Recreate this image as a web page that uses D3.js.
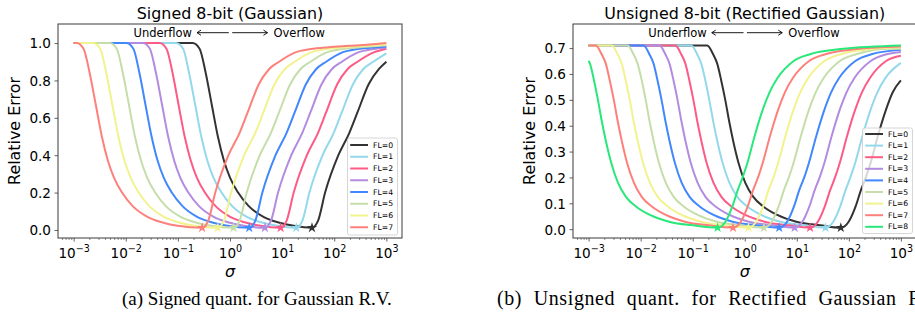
<!DOCTYPE html>
<html>
<head>
<meta charset="utf-8">
<script src="https://cdn.jsdelivr.net/npm/d3@7/dist/d3.min.js"></script>
<style>
  body { margin: 0; background: #fff; }
  svg { display: block; font-family: "DejaVu Sans", sans-serif; }
</style>
</head>
<body>
<svg id="chart" width="915" height="322"></svg>
<script>
// legend labels and colours, FL=0 first (drawn first, underneath)
const flLabels = ['FL=0', 'FL=1', 'FL=2', 'FL=3', 'FL=4', 'FL=5', 'FL=6', 'FL=7', 'FL=8'];
const flColors = ['#333333', '#93d9eb', '#fd5b87', '#b38be0', '#4288fc', '#c5dea9', '#f2f28e', '#fd807b', '#29e87a'];

const sigmaTicks = [1e-3, 1e-2, 1e-1, 1e0, 1e1, 1e2, 1e3];
const signedTicks = [0, 0.2, 0.4, 0.6, 0.8, 1.0];
const unsignedTicks = [0, 0.1, 0.2, 0.3, 0.4, 0.5, 0.6, 0.7];

// [sigma, relative error]
const signedFL0 = [[0.001,1.0],[0.191,1.0],[0.261,0.97],[0.342,0.84],[0.447,0.67],[0.585,0.5],[0.766,0.37],[1.0,0.28],[1.43,0.2],[2.24,0.13],[4.38,0.07],[8.55,0.04],[16.7,0.022],[37.4,0.012],[49.0,0.05],[66.8,0.2],[120,0.4],[195,0.52],[280,0.63],[457,0.78],[716,0.86],[1000,0.9]];
const signedFL1 = [[0.001,1.0],[0.092,1.0],[0.126,0.97],[0.164,0.84],[0.215,0.67],[0.281,0.5],[0.368,0.37],[0.481,0.28],[0.687,0.2],[1.08,0.13],[2.10,0.07],[4.11,0.04],[8.04,0.022],[18.7,0.012],[24.5,0.05],[33.4,0.2],[59.8,0.4],[97.7,0.52],[140,0.63],[229,0.78],[358,0.86],[560,0.9],[1000,0.945]];
const signedFL2 = [[0.001,1.0],[0.0443,1.0],[0.0604,0.97],[0.0791,0.84],[0.103,0.67],[0.135,0.5],[0.177,0.37],[0.231,0.28],[0.330,0.2],[0.518,0.13],[1.01,0.07],[1.98,0.04],[3.86,0.022],[9.35,0.012],[12.2,0.05],[16.7,0.2],[29.9,0.4],[48.9,0.52],[70.0,0.63],[114,0.78],[179,0.86],[280,0.9],[571,0.95],[1000,0.97]];
const signedFL3 = [[0.001,1.0],[0.0213,1.0],[0.0290,0.97],[0.0380,0.84],[0.0497,0.67],[0.0650,0.5],[0.0851,0.37],[0.111,0.28],[0.159,0.2],[0.249,0.13],[0.486,0.07],[0.951,0.04],[1.86,0.022],[4.68,0.012],[6.12,0.05],[8.36,0.2],[15.0,0.4],[24.4,0.52],[35.0,0.63],[57.1,0.78],[89.5,0.86],[140,0.9],[286,0.95],[560,0.968],[1000,0.976]];
const signedFL4 = [[0.001,1.0],[0.0102,1.0],[0.0140,0.97],[0.0183,0.84],[0.0239,0.67],[0.0313,0.5],[0.0409,0.37],[0.0535,0.28],[0.0764,0.2],[0.120,0.13],[0.234,0.07],[0.457,0.04],[0.893,0.022],[2.34,0.012],[3.06,0.05],[4.18,0.2],[7.48,0.4],[12.2,0.52],[17.5,0.63],[28.6,0.78],[44.8,0.86],[70.0,0.9],[143,0.95],[280,0.968],[625,0.978],[1000,0.982]];
const signedFL5 = [[0.001,1.0],[0.00492,1.0],[0.00671,0.97],[0.00879,0.84],[0.0115,0.67],[0.0150,0.5],[0.0197,0.37],[0.0257,0.28],[0.0367,0.2],[0.0575,0.13],[0.113,0.07],[0.220,0.04],[0.430,0.022],[1.17,0.012],[1.53,0.05],[2.09,0.2],[3.74,0.4],[6.11,0.52],[8.75,0.63],[14.3,0.78],[22.4,0.86],[35.0,0.9],[71.4,0.95],[140,0.968],[313,0.978],[766,0.985],[1000,0.988]];
const signedFL6 = [[0.001,1.0],[0.00237,1.0],[0.00323,0.97],[0.00423,0.84],[0.00552,0.67],[0.00723,0.5],[0.00946,0.37],[0.0124,0.28],[0.0177,0.2],[0.0277,0.13],[0.0541,0.07],[0.106,0.04],[0.207,0.022],[0.585,0.012],[0.766,0.05],[1.05,0.2],[1.87,0.4],[3.06,0.52],[4.38,0.63],[7.15,0.78],[11.2,0.86],[17.5,0.9],[35.7,0.95],[70.0,0.968],[156,0.978],[383,0.985],[935,0.992],[1000,0.993]];
const signedFL7 = [[0.001,1.0],[0.00114,1.0],[0.00155,0.97],[0.00203,0.84],[0.00266,0.67],[0.00348,0.5],[0.00455,0.37],[0.00594,0.28],[0.00849,0.2],[0.0133,0.13],[0.0260,0.07],[0.0508,0.04],[0.0993,0.022],[0.292,0.012],[0.383,0.05],[0.522,0.2],[0.935,0.4],[1.53,0.52],[2.19,0.63],[3.57,0.78],[5.60,0.86],[8.75,0.9],[17.9,0.95],[35.0,0.968],[78.2,0.978],[191,0.985],[468,0.992],[1000,1.0]];

// [sigma, relative error]
const unsignedFL0 = [[0.001,0.71],[0.190,0.71],[0.248,0.675],[0.296,0.64],[0.353,0.575],[0.422,0.5],[0.504,0.415],[0.601,0.34],[0.750,0.26],[1.02,0.18],[1.46,0.125],[2.27,0.088],[4.22,0.055],[10.2,0.028],[28.3,0.015],[70.1,0.006],[100,0.03],[136,0.09],[170,0.15],[212,0.2],[265,0.26],[361,0.36],[514,0.46],[701,0.53],[1000,0.575]];
const unsignedFL1 = [[0.001,0.71],[0.094,0.71],[0.1225,0.675],[0.146,0.64],[0.175,0.575],[0.208,0.5],[0.249,0.415],[0.297,0.34],[0.371,0.26],[0.506,0.18],[0.719,0.125],[1.12,0.088],[2.08,0.055],[5.06,0.028],[14.0,0.015],[35.5,0.006],[50.6,0.03],[68.9,0.09],[86.1,0.15],[107,0.2],[134,0.26],[183,0.36],[260,0.46],[355,0.53],[506,0.585],[1000,0.643]];
const unsignedFL2 = [[0.001,0.71],[0.0465,0.71],[0.0605,0.675],[0.0723,0.64],[0.0863,0.575],[0.103,0.5],[0.123,0.415],[0.147,0.34],[0.183,0.26],[0.250,0.18],[0.356,0.125],[0.555,0.088],[1.03,0.055],[2.50,0.028],[6.92,0.015],[17.95,0.006],[25.6,0.03],[34.8,0.09],[43.6,0.15],[54.3,0.2],[67.8,0.26],[92.5,0.36],[131.5,0.46],[179.5,0.53],[256,0.585],[520,0.65],[1000,0.67]];
const unsignedFL3 = [[0.001,0.71],[0.0230,0.71],[0.0300,0.675],[0.0358,0.64],[0.0428,0.575],[0.0511,0.5],[0.0610,0.415],[0.0728,0.34],[0.0908,0.26],[0.124,0.18],[0.176,0.125],[0.275,0.088],[0.511,0.055],[1.24,0.028],[3.43,0.015],[9.08,0.006],[12.9,0.03],[17.6,0.09],[22.0,0.15],[27.5,0.2],[34.3,0.26],[46.8,0.36],[66.5,0.46],[90.8,0.53],[129,0.585],[263,0.65],[557,0.677],[1000,0.685]];
const unsignedFL4 = [[0.001,0.71],[0.0114,0.71],[0.0148,0.675],[0.0177,0.64],[0.0211,0.575],[0.0252,0.5],[0.0301,0.415],[0.0360,0.34],[0.0449,0.26],[0.0612,0.18],[0.0871,0.125],[0.136,0.088],[0.252,0.055],[0.612,0.028],[1.69,0.015],[4.59,0.006],[6.55,0.03],[8.91,0.09],[11.1,0.15],[13.9,0.2],[17.3,0.26],[23.7,0.36],[33.7,0.46],[45.9,0.53],[65.5,0.585],[133,0.65],[282,0.677],[1000,0.693]];
const unsignedFL5 = [[0.001,0.71],[0.00562,0.71],[0.00733,0.675],[0.00875,0.64],[0.0105,0.575],[0.0125,0.5],[0.0149,0.415],[0.0178,0.34],[0.0222,0.26],[0.0303,0.18],[0.0431,0.125],[0.0671,0.088],[0.125,0.055],[0.303,0.028],[0.838,0.015],[2.32,0.006],[3.31,0.03],[4.51,0.09],[5.64,0.15],[7.03,0.2],[8.77,0.26],[12.0,0.36],[17.0,0.46],[23.2,0.53],[33.1,0.585],[67.3,0.65],[143,0.677],[615,0.697],[1000,0.697]];
const unsignedFL6 = [[0.001,0.71],[0.00278,0.71],[0.00362,0.675],[0.00433,0.64],[0.00516,0.575],[0.00617,0.5],[0.00736,0.415],[0.00879,0.34],[0.0110,0.26],[0.0150,0.18],[0.0213,0.125],[0.0332,0.088],[0.0617,0.055],[0.150,0.028],[0.414,0.015],[1.175,0.006],[1.67,0.03],[2.28,0.09],[2.85,0.15],[3.56,0.2],[4.44,0.26],[6.05,0.36],[8.61,0.46],[11.7,0.53],[16.7,0.585],[34.0,0.65],[72.1,0.677],[311,0.697],[1000,0.703]];
const unsignedFL7 = [[0.001,0.71],[0.00137,0.71],[0.00179,0.675],[0.00214,0.64],[0.00255,0.575],[0.00305,0.5],[0.00364,0.415],[0.00435,0.34],[0.00542,0.26],[0.00740,0.18],[0.0105,0.125],[0.0164,0.088],[0.0305,0.055],[0.0740,0.028],[0.205,0.015],[0.594,0.006],[0.847,0.03],[1.15,0.09],[1.44,0.15],[1.80,0.2],[2.24,0.26],[3.06,0.36],[4.36,0.46],[5.94,0.53],[8.47,0.585],[17.2,0.65],[36.5,0.677],[157,0.697],[1000,0.706]];
const unsignedFL8 = [[0.001,0.651],[0.00106,0.64],[0.00127,0.575],[0.00151,0.5],[0.00180,0.415],[0.00215,0.34],[0.00269,0.26],[0.00366,0.18],[0.00521,0.125],[0.00813,0.088],[0.0151,0.055],[0.0366,0.028],[0.101,0.015],[0.301,0.006],[0.429,0.03],[0.583,0.09],[0.730,0.15],[0.910,0.2],[1.14,0.26],[1.55,0.36],[2.20,0.46],[3.01,0.53],[4.29,0.585],[8.71,0.65],[18.5,0.677],[79.6,0.697],[1000,0.71]];

const signedSeries = [signedFL0, signedFL1, signedFL2, signedFL3, signedFL4, signedFL5, signedFL6, signedFL7];
const unsignedSeries = [unsignedFL0, unsignedFL1, unsignedFL2, unsignedFL3, unsignedFL4, unsignedFL5, unsignedFL6, unsignedFL7, unsignedFL8];

const svg = d3.select('#chart');
const frameColor = '#3a3a3a';

function drawPanel(p, idx) {
  let x = d3.scaleLog().domain([Math.pow(10, -3.3), Math.pow(10, 3.3)]).range([p.left, p.right]);
  let y = d3.scaleLinear().domain(p.yDomain).range([p.bottom, p.top]);
  let g = svg.append('g');

  let clipId = 'clip' + idx;
  svg.append('clipPath').attr('id', clipId)
    .append('rect')
    .attr('x', p.left).attr('y', p.top)
    .attr('width', p.right - p.left).attr('height', p.bottom - p.top);

  let line = d3.line()
    .x(d => x(d[0]))
    .y(d => y(d[1]))
    .curve(d3.curveMonotoneX);

  let plot = g.append('g').attr('clip-path', `url(#${clipId})`);
  plot.selectAll('path.curve')
    .data(p.series)
    .enter()
    .append('path')
    .attr('class', 'curve')
    .attr('d', line)
    .attr('fill', 'none')
    .attr('stroke', (d, i) => flColors[i])
    .attr('stroke-width', 2)
    .attr('stroke-linejoin', 'round');

  // star marks the minimum of each curve
  let star = d3.symbol().type(d3.symbolStar).size(34);
  plot.selectAll('path.star')
    .data(p.series)
    .enter()
    .append('path')
    .attr('class', 'star')
    .attr('d', star)
    .attr('fill', (d, i) => flColors[i])
    .attr('transform', d => {
      let m = d3.least(d, v => v[1]);
      return `translate(${x(m[0])},${y(m[1])})`;
    });

  // x axis: minor then major ticks
  let minor = [];
  for (let e = -4; e <= 3; e++) {
    for (let k = 2; k <= 9; k++) {
      let v = k * Math.pow(10, e);
      if (v >= x.domain()[0] && v <= x.domain()[1]) minor.push(v);
    }
  }
  g.append('g')
    .attr('transform', `translate(0,${p.bottom})`)
    .call(d3.axisBottom(x).tickValues(minor).tickSize(2).tickFormat(''))
    .call(a => a.select('.domain').remove())
    .call(a => a.selectAll('line').attr('stroke', frameColor).attr('stroke-width', 0.6));

  let xAxis = g.append('g')
    .attr('transform', `translate(0,${p.bottom})`)
    .call(d3.axisBottom(x).tickValues(sigmaTicks).tickSize(3.5).tickPadding(7).tickFormat(''));
  xAxis.select('.domain').remove();
  xAxis.selectAll('line').attr('stroke', frameColor).attr('stroke-width', 0.8);
  xAxis.selectAll('.tick text').each(function(d) {
    let t = d3.select(this);
    let exp = Math.round(Math.log10(d));
    t.attr('font-size', 13.6).attr('fill', '#000').attr('font-family', '"DejaVu Sans", sans-serif');
    t.append('tspan').text('10');
    t.append('tspan').attr('dy', -5.8).attr('font-size', 9.6).text(String(exp).replace('-', '\u2212'));
  });

  let yAxis = g.append('g')
    .attr('transform', `translate(${p.left},0)`)
    .call(d3.axisLeft(y).tickValues(p.yTicks).tickSize(3.5).tickPadding(3.5).tickFormat(d3.format('.1f')));
  yAxis.select('.domain').remove();
  yAxis.selectAll('line').attr('stroke', frameColor).attr('stroke-width', 0.8);
  yAxis.selectAll('text')
    .attr('font-size', 13.6)
    .attr('fill', '#000')
    .attr('font-family', '"DejaVu Sans", sans-serif')
    .attr('dy', '0.36em');

  // frame
  g.append('rect')
    .attr('x', p.left).attr('y', p.top)
    .attr('width', p.right - p.left).attr('height', p.bottom - p.top)
    .attr('fill', 'none')
    .attr('stroke', frameColor)
    .attr('stroke-width', 1);

  let cx = x(1);

  g.append('text')
    .attr('x', (p.left + p.right) / 2).attr('y', 19.3)
    .attr('text-anchor', 'middle')
    .attr('font-size', 15.9)
    .text(p.title);

  // underflow / overflow annotation
  let ay = 32.7;
  let arrow = (x0, x1) => {
    let dir = x1 > x0 ? 1 : -1;
    g.append('path')
      .attr('d', `M${x0},${ay}H${x1}M${x1 - dir * 4},${ay - 2.6}L${x1},${ay}L${x1 - dir * 4},${ay + 2.6}`)
      .attr('fill', 'none')
      .attr('stroke', '#000')
      .attr('stroke-width', 0.9);
  };
  arrow(cx - 1.2, cx - 33);
  arrow(cx + 2.2, cx + 37.5);
  g.append('text')
    .attr('x', cx - 38).attr('y', 36.8)
    .attr('text-anchor', 'end')
    .attr('font-size', 11.5)
    .text('Underflow');
  g.append('text')
    .attr('x', cx + 43.5).attr('y', 36.8)
    .attr('font-size', 11.5)
    .text('Overflow');

  g.append('text')
    .attr('transform', `translate(${p.yLabelX},${(p.top + p.bottom) / 2}) rotate(-90)`)
    .attr('text-anchor', 'middle')
    .attr('font-size', 15.9)
    .text('Relative Error');

  g.append('text')
    .attr('x', cx).attr('y', 277)
    .attr('text-anchor', 'middle')
    .attr('font-size', 15.9)
    .attr('font-style', 'italic')
    .text('\u03c3');

  // legend
  let lg = g.append('g');
  let n = p.series.length;
  lg.append('rect')
    .attr('x', p.legend.x).attr('y', p.legend.y)
    .attr('width', p.legend.w).attr('height', p.legend.h)
    .attr('rx', 2)
    .attr('fill', '#fff').attr('fill-opacity', 0.8)
    .attr('stroke', '#cccccc').attr('stroke-width', 0.8);
  for (let i = 0; i < n; i++) {
    let ry = p.legend.row0 + i * p.legend.step;
    lg.append('line')
      .attr('x1', p.legend.x + 2.7).attr('x2', p.legend.x + 20.5)
      .attr('y1', ry).attr('y2', ry)
      .attr('stroke', flColors[i]).attr('stroke-width', 2);
    lg.append('text')
      .attr('x', p.legend.x + 25.5).attr('y', ry)
      .attr('dy', '0.35em')
      .attr('font-size', 7.7)
      .text(flLabels[i]);
  }

  svg.append('text')
    .attr('x', p.caption.x).attr('y', 305)
    .attr('font-family', '"Liberation Serif", "Times New Roman", serif')
    .attr('font-size', p.caption.size)
    .attr('letter-spacing', p.caption.letter)
    .attr('word-spacing', p.caption.word)
    .text(p.caption.text);
}

drawPanel({
  left: 58, right: 402, top: 24, bottom: 238,
  yDomain: [-0.043, 1.102], yTicks: signedTicks,
  series: signedSeries,
  title: 'Signed 8-bit (Gaussian)',
  yLabelX: 20.3,
  legend: { x: 347.5, y: 138, w: 50, h: 97, row0: 145, step: 11.75 },
  caption: { text: '(a) Signed quant. for Gaussian R.V.', x: 122, size: 19, letter: 0, word: 0 }
}, 0);

drawPanel({
  left: 573, right: 916.5, top: 24, bottom: 238,
  yDomain: [-0.034, 0.793], yTicks: unsignedTicks,
  series: unsignedSeries,
  title: 'Unsigned 8-bit (Rectified Gaussian)',
  yLabelX: 535,
  legend: { x: 862.5, y: 128, w: 50, h: 105.5, row0: 134, step: 11.6 },
  caption: { text: '(b) Unsigned quant. for Rectified Gaussian R.V.', x: 497, size: 20, letter: 0.6, word: 6 }
}, 1);
</script>
</body>
</html>
